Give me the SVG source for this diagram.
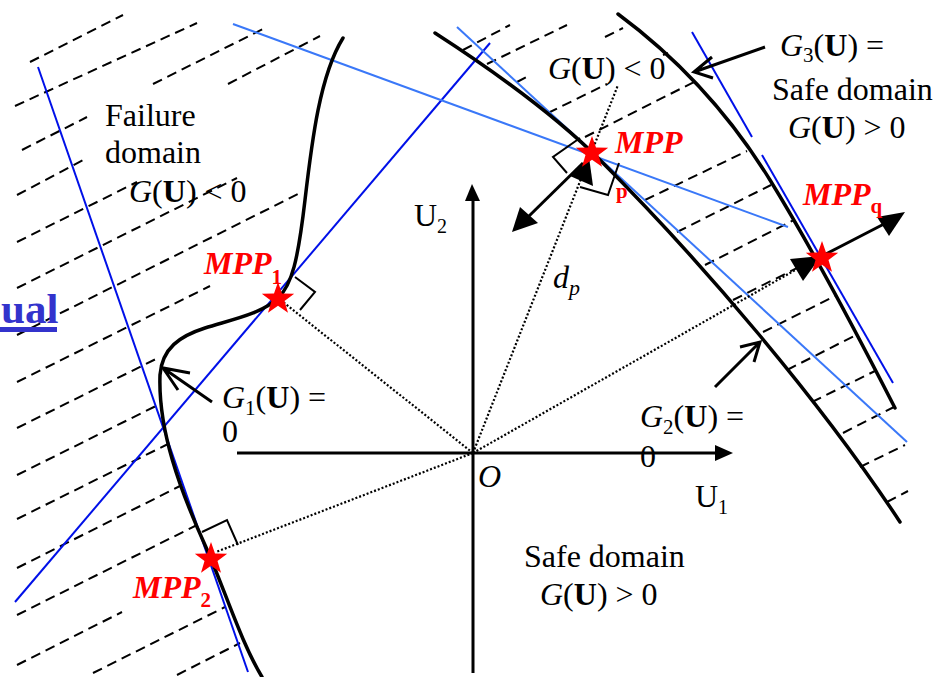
<svg xmlns="http://www.w3.org/2000/svg" width="936" height="677" viewBox="0 0 936 677">
<style>
.t{font-family:"Liberation Serif","Times New Roman",serif;font-size:32px;fill:#000}
.r{font-family:"Liberation Serif","Times New Roman",serif;font-weight:bold;font-style:italic;font-size:32px;fill:#f00}
.rs{font-family:"Liberation Serif","Times New Roman",serif;font-weight:bold;font-style:normal;font-size:21px;fill:#f00}
.i{font-style:italic}
.b{font-weight:bold}
.curve{fill:none;stroke:#000;stroke-width:3.5;stroke-linecap:round}
.axis{fill:none;stroke:#000;stroke-width:3}
.dblue{fill:none;stroke:#0010e8;stroke-width:2}
.lblue{fill:none;stroke:#3a78f8;stroke-width:2}
.dash{fill:none;stroke:#000;stroke-width:2;stroke-dasharray:10 6}
.dot{fill:none;stroke:#000;stroke-width:2.2;stroke-dasharray:2 2}
.thin{fill:none;stroke:#000;stroke-width:2}
.arr{fill:none;stroke:#000;stroke-width:3}
</style>
<defs>
<polygon id="star" points="0,-17 4,-5.5 16.2,-5.3 6.5,2.1 10,13.8 0,6.8 -10,13.8 -6.5,2.1 -16.2,-5.3 -4,-5.5" fill="#f00"/>
</defs>
<rect width="936" height="677" fill="#fff"/>

<g id="hatch">
<path class="dash" d="M30,62L123,15M15,106L197,23M22,150L87,117M153,84L265,28M17,195L87,158M228,84L320,36M17,242L137,182M17,288L237,178M17,335L300,193M17,382L210,286M17,428L160,357M17,475L162,403M17,519L168,444M17,568L180,486M17,615L197,525M17,665L122,612M93,673L225,607M177,675L240,643"/>
<path class="dash" d="M463,50L510,25M487,64L567,25M517,82L530,75M605,37L623,28M548,113L607,84M663,55L668,53M585,137L698,80M645,200L747,151M677,232L771,185M705,265L794,220M733,300L815,259M763,332L835,296M787,370L856,335M812,402L875,371M843,433L894,407M860,467L905,445M887,502L908,491"/>
</g>

<g id="tangents">
<line class="dblue" x1="38" y1="67" x2="248" y2="672"/>
<line class="dblue" x1="15" y1="602" x2="490" y2="43"/>
<line class="dblue" x1="692" y1="32" x2="752" y2="137"/>
<line class="dblue" x1="762" y1="155" x2="893" y2="383"/>
<line class="lblue" x1="233" y1="24" x2="788" y2="227"/>
<line class="lblue" x1="457" y1="27" x2="907" y2="442"/>
</g>

<g id="limit-states">
<path id="G1" class="curve" d="M343,38 C320,75 312,140 305,200 C298,260 292,285 278,298 C262,314 230,320 205,328 C180,336 162,348 160,375 C158,430 180,490 205,545 C225,590 240,640 262,677"/>
<path id="G2" class="curve" d="M435,33 C500,75 560,120 600,160 C700,260 820,400 900,522"/>
<path id="G3" class="curve" d="M618,14 C680,60 730,115 770,180 C810,245 850,320 895,408"/>
</g>

<g id="axes">
<line class="axis" x1="237" y1="453" x2="718" y2="453"/>
<polygon points="715,445 733,453 715,461" fill="#000"/>
<line class="axis" x1="473" y1="673" x2="473" y2="198"/>
<polygon points="465,201 472,184 480,201" fill="#000"/>
</g>

<g id="connectors">
<line class="dot" x1="473" y1="453" x2="283" y2="302"/>
<line class="dot" x1="473" y1="453" x2="216" y2="552"/>
<line class="dot" x1="473" y1="453" x2="618" y2="85"/>
<line class="dot" x1="473" y1="453" x2="797" y2="269"/>
<polyline class="thin" points="295,277 315,292 300,310"/>
<polyline class="thin" points="202,532 227,520 238,545"/>
<polyline class="thin" points="580,138 553,157 567,173"/>
<polyline class="thin" points="580,187 608,195 619,163"/>
<line class="arr" x1="583" y1="163" x2="527" y2="218"/>
<polygon points="512,232 520,207 538,223" fill="#000"/>
<polygon points="589,157 570,176 593,186" fill="#000"/>
<polygon points="821,256 790,259 803,281" fill="#000"/>
<line class="arr" x1="820" y1="257" x2="884" y2="224"/>
<polygon points="905,212 877,217 889,236" fill="#000"/>
<path class="arr" d="M212,402L163,368M190,373L163,368L178,390"/>
<path class="arr" d="M715,387L760,342M740,347L760,342L754,362"/>
<path class="arr" d="M765,47L694,72M712,57L694,72L713,78"/>
</g>

<g id="mpp1"><use href="#star" x="278" y="299"/><text class="r" x="204" y="274">MPP<tspan class="rs" dy="10">1</tspan></text></g>
<g id="mpp2"><use href="#star" x="211" y="559"/><text class="r" x="133" y="598">MPP<tspan class="rs" dy="9">2</tspan></text></g>
<g id="mpp"><use href="#star" x="592" y="153"/><text class="r" x="615" y="153">MPP</text><text class="rs" x="616" y="198">p</text></g>
<g id="mppq"><use href="#star" x="822" y="258"/><text class="r" x="803" y="205">MPP<tspan class="rs" dy="8">q</tspan></text></g>

<g id="labels">
<text class="t" x="105" y="126">Failure</text>
<text class="t" x="105" y="163">domain</text>
<text class="t" x="129" y="202"><tspan class="i">G</tspan>(<tspan class="b">U</tspan>) &lt; 0</text>
<text class="t" x="548" y="79"><tspan class="i">G</tspan>(<tspan class="b">U</tspan>) &lt; 0</text>
<text class="t" x="780" y="56"><tspan class="i">G</tspan><tspan font-size="21" dy="6">3</tspan><tspan dy="-6">(</tspan><tspan class="b">U</tspan>) =</text>
<text class="t" x="772" y="100">Safe domain</text>
<text class="t" x="788" y="138"><tspan class="i">G</tspan>(<tspan class="b">U</tspan>) &gt; 0</text>
<text class="t" x="222" y="408"><tspan class="i">G</tspan><tspan font-size="21" dy="7">1</tspan><tspan dy="-7">(</tspan><tspan class="b">U</tspan>) =</text>
<text class="t" x="222" y="442">0</text>
<text class="t" x="640" y="427"><tspan class="i">G</tspan><tspan font-size="21" dy="7">2</tspan><tspan dy="-7">(</tspan><tspan class="b">U</tspan>) =</text>
<text class="t" x="640" y="467">0</text>
<text class="t" x="524" y="567">Safe domain</text>
<text class="t" x="540" y="605"><tspan class="i">G</tspan>(<tspan class="b">U</tspan>) &gt; 0</text>
<text class="t i" x="478" y="487" font-size="30">O</text>
<text class="t" x="695" y="507" font-size="30">U<tspan font-size="20" dy="7">1</tspan></text>
<text class="t" x="414" y="226" font-size="30">U<tspan font-size="20" dy="7">2</tspan></text>
<text class="t i" x="553" y="288">d<tspan font-size="22" dy="7">p</tspan></text>
<text x="1" y="323" font-family="Liberation Serif, Times New Roman, serif" font-weight="bold" font-size="43" fill="#3333cc">ual</text>
<rect x="0" y="327" width="57" height="5" fill="#3333cc"/>
</g>
</svg>
